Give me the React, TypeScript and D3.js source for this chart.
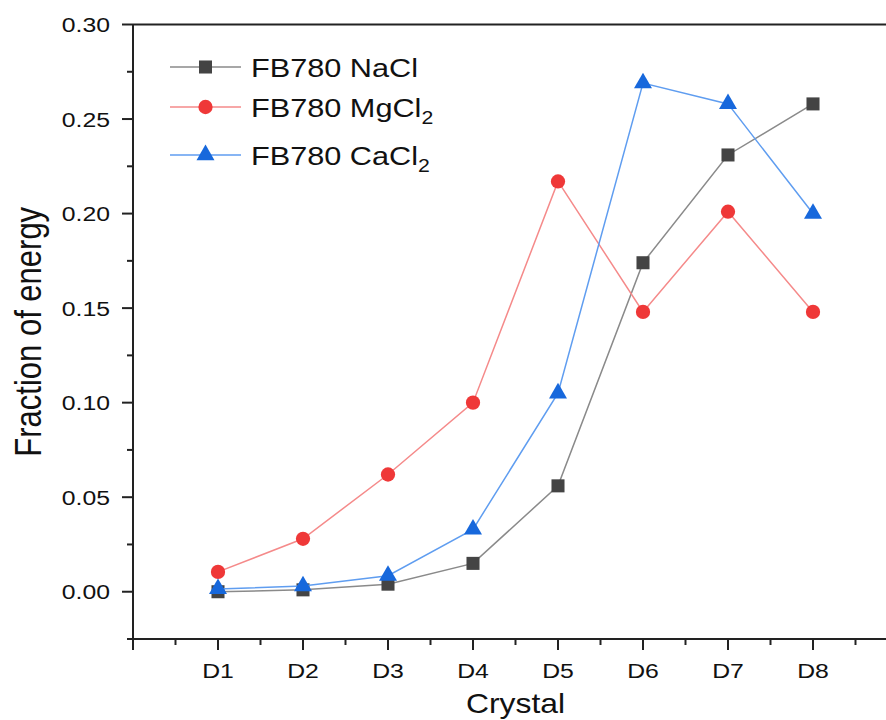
import React from "react";
import * as d3 from "d3";

// values
const crystals = ["D1", "D2", "D3", "D4", "D5", "D6", "D7", "D8"];
const nacl = [0.0, 0.001, 0.004, 0.015, 0.056, 0.174, 0.231, 0.258];
const mgcl2 = [0.0105, 0.028, 0.062, 0.1, 0.217, 0.148, 0.201, 0.148];
const cacl2 = [0.0015, 0.003, 0.0085, 0.033, 0.105, 0.269, 0.258, 0.2];
const yTicks = [0, 0.05, 0.1, 0.15, 0.2, 0.25, 0.3];
const yMinor = [-0.025, 0.025, 0.075, 0.125, 0.175, 0.225, 0.275];
const xMinor = [0.5, 1.5, 2.5, 3.5, 4.5, 5.5, 6.5, 7.5, 8.5];

const series = [
  { base: "FB780 NaCl", sub: "", values: nacl, line: "#8a8a8a", fill: "#444444", symbol: d3.symbolSquare, size: 170 },
  { base: "FB780 MgCl", sub: "2", values: mgcl2, line: "#f58a8a", fill: "#ef3838", symbol: d3.symbolCircle, size: 160 },
  { base: "FB780 CaCl", sub: "2", values: cacl2, line: "#5f9df0", fill: "#1768dc", symbol: d3.symbolTriangle, size: 140 },
];

const W = 886, H = 720;
const SX = 1.18; // the picture is a bit wider than tall
const font = "'Liberation Sans', Arial, sans-serif";

export default function App() {
  const x = d3.scaleLinear().domain([0, 9]).range([133, 898]);
  const y = d3.scaleLinear().domain([-0.025, 0.3]).range([639, 24.5]);
  const [x0, x1] = x.range();
  const [yb, yt] = y.range();

  const line = d3.line<number>().x((d, i) => x(i + 1)).y(d => y(d));

  return (
    <svg width={W} height={H} style={{ position: "absolute", left: 0, top: 0, background: "#fff" }} fontFamily={font}>
      {/* series */}
      {series.map(s => (
        <g key={s.base}>
          <path d={line(s.values) || ""} fill="none" stroke={s.line} strokeWidth={1.5} />
          {s.values.map((v, i) => (
            <path key={i} d={d3.symbol(s.symbol, s.size)() || ""}
              transform={`translate(${x(i + 1)},${y(v)})`} fill={s.fill} />
          ))}
        </g>
      ))}

      {/* axes box */}
      <g stroke="#222" strokeWidth={2} fill="none">
        <line x1={x0} x2={x0} y1={yt} y2={yb} />
        <line x1={x0} x2={x1} y1={yb} y2={yb} />
        <line x1={x0} x2={x1} y1={yt} y2={yt} />
        <line x1={x1} x2={x1} y1={yt} y2={yb} />
        {yTicks.map(t => <line key={t} x1={x0 - 11} x2={x0} y1={y(t)} y2={y(t)} />)}
        {yMinor.map(t => <line key={t} x1={x0 - 6} x2={x0} y1={y(t)} y2={y(t)} />)}
        {d3.range(0, 10).map(t => <line key={t} x1={x(t)} x2={x(t)} y1={yb} y2={yb + 11} />)}
        {xMinor.map(t => <line key={t} x1={x(t)} x2={x(t)} y1={yb} y2={yb + 6} />)}
      </g>

      {/* tick labels */}
      {yTicks.map(t => (
        <g key={t} transform={`translate(${x0 - 23},${y(t) + 7.5}) scale(${SX},1)`}>
          <text textAnchor="end" fontSize={21} fill="#111">{d3.format(".2f")(t)}</text>
        </g>
      ))}
      {crystals.map((c, i) => (
        <g key={c} transform={`translate(${x(i + 1)},${678}) scale(${SX},1)`}>
          <text textAnchor="middle" fontSize={21} fill="#111">{c}</text>
        </g>
      ))}

      {/* axis titles */}
      <g transform={`translate(${(x0 + x1) / 2},713) scale(${SX},1)`}>
        <text textAnchor="middle" fontSize={27} fill="#111">Crystal</text>
      </g>
      <g transform={`translate(41,${(yt + yb) / 2}) scale(${SX},1) rotate(-90)`}>
        <text textAnchor="middle" fontSize={31} fill="#111">Fraction of energy</text>
      </g>

      {/* legend */}
      {series.map((s, i) => {
        const ly = [67, 107, 155][i];
        return (
          <g key={s.base}>
            <line x1={170} x2={241} y1={ly} y2={ly} stroke={s.line} strokeWidth={1.5} />
            <path d={d3.symbol(s.symbol, s.size)() || ""} transform={`translate(205.5,${ly})`} fill={s.fill} />
            <g transform={`translate(251,${ly + 9.5}) scale(${SX},1)`}>
              <text fontSize={26} fill="#111">
                {s.base}
                {s.sub && <tspan fontSize={18} dy={7}>{s.sub}</tspan>}
              </text>
            </g>
          </g>
        );
      })}
    </svg>
  );
}
